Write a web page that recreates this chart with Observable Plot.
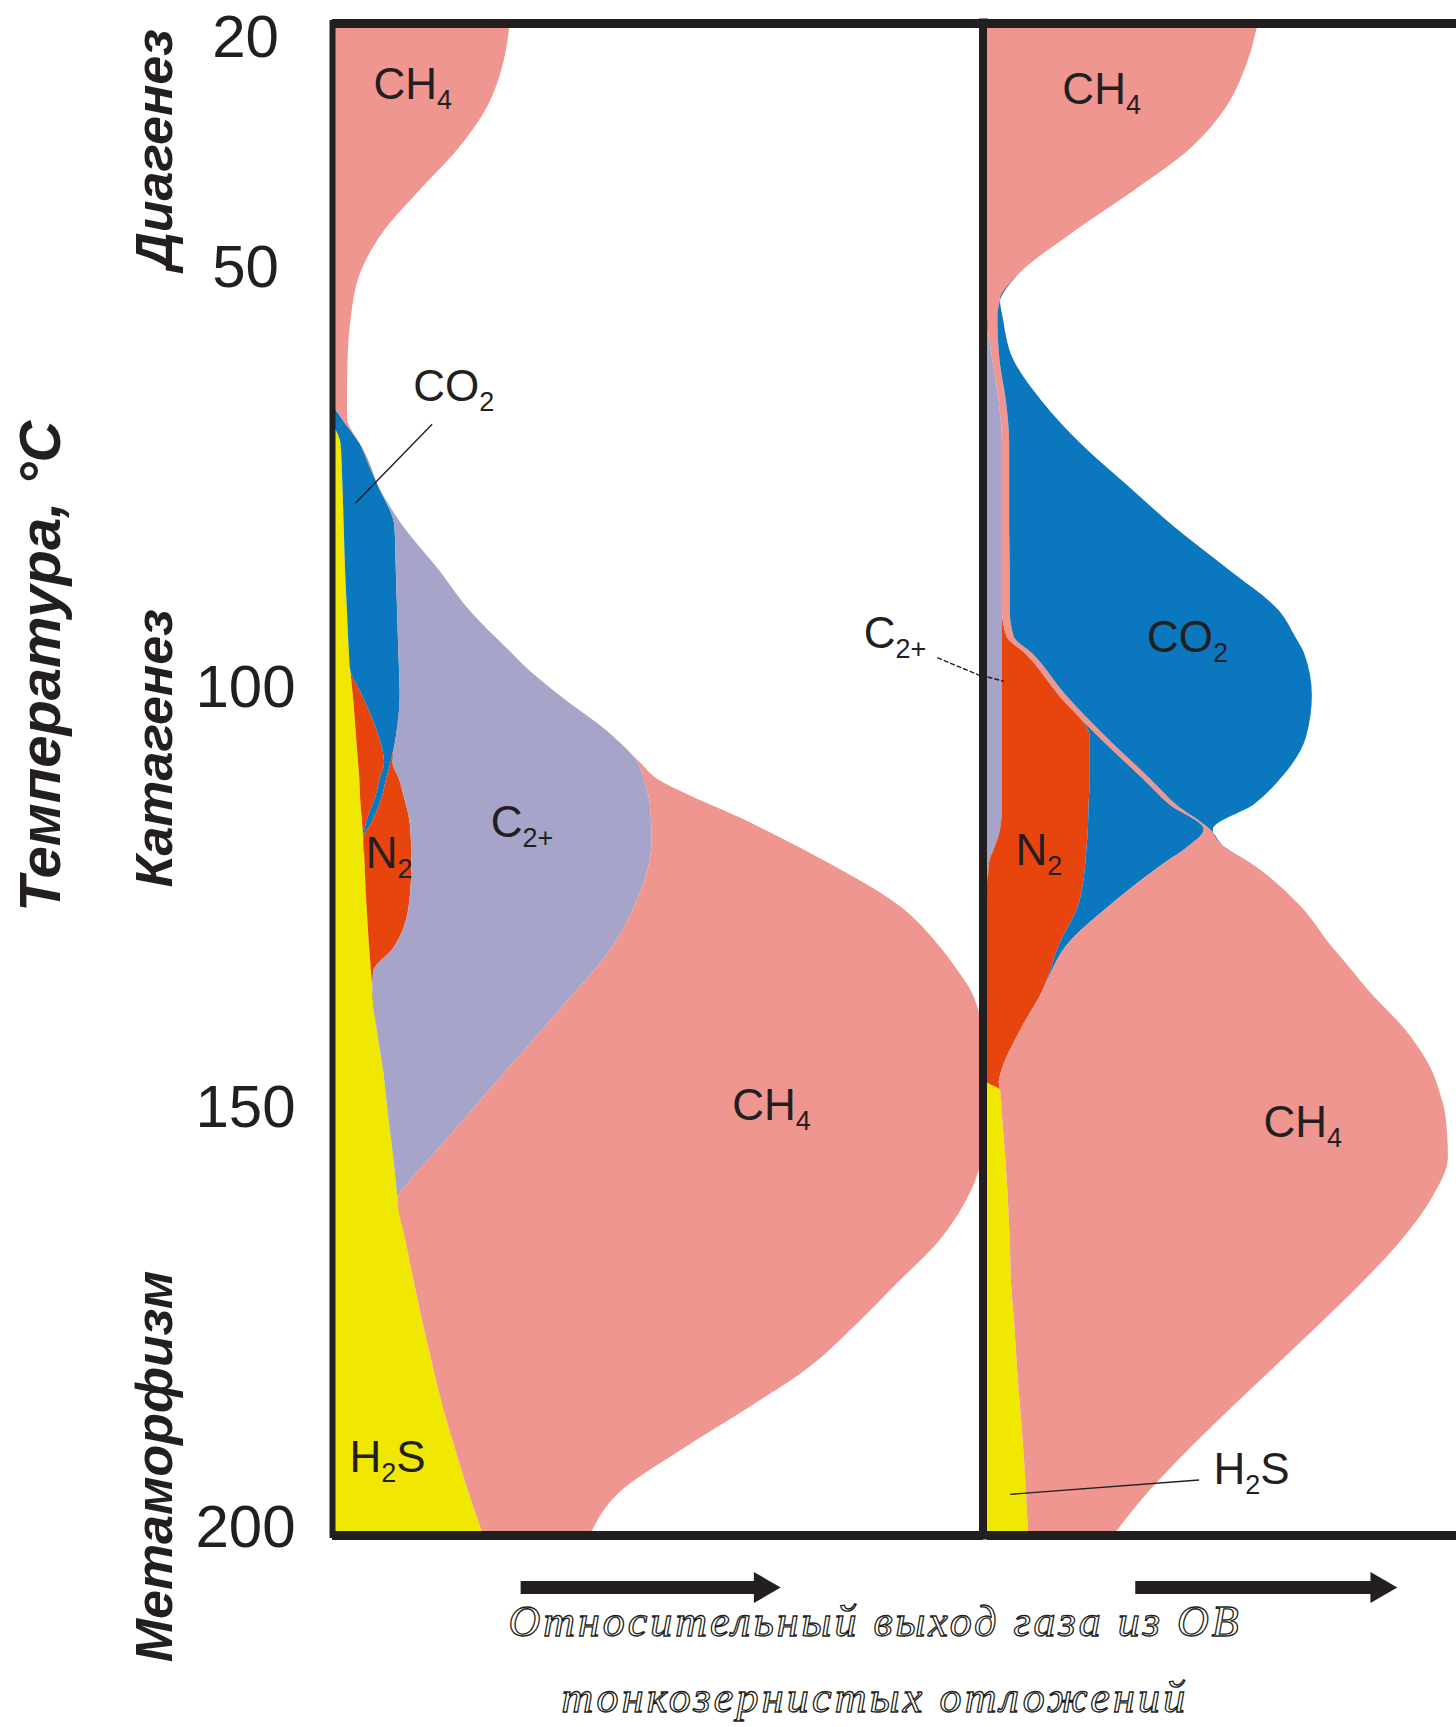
<!DOCTYPE html>
<html><head><meta charset="utf-8">
<script src="https://cdn.jsdelivr.net/npm/d3@7"></script>
<script src="https://cdn.jsdelivr.net/npm/@observablehq/plot@0.6"></script>
<style>
html,body{margin:0;padding:0;background:#fff;overflow:hidden;}
#wrap{position:relative;width:1456px;height:1727px;overflow:hidden;background:#fff;}
#left{position:absolute;left:0;top:0;width:987px;height:1727px;}
#right{position:absolute;left:987px;top:0;width:469px;height:1727px;}
#caption{position:absolute;left:875px;top:1597px;transform:translateX(-50%);white-space:nowrap;text-align:center;
 font-family:"Liberation Serif","DejaVu Serif",serif;font-style:italic;font-size:44px;
 color:#fff;-webkit-text-stroke:1.3px #231f20;}
#caption .l1{letter-spacing:3px;line-height:50px;height:50px;}
#caption .l2{letter-spacing:3.2px;line-height:50px;height:50px;margin-top:26px;}
svg{max-width:none !important;}
</style></head><body>
<div id="wrap">
  <div id="left"></div>
  <div id="right"></div>
  <div id="caption"><div class="l1">Относительный выход газа из ОВ</div><div class="l2">тонкозернистых отложений</div></div>
</div>
<script>
// ---------- data (relative gas yield, arbitrary units; 100 = width of a panel) ----------
const gasNames  = ["H2S", "N2", "CO2", "C2+", "CH4"];
const gasColors = ["#f0e800", "#e8440e", "#0a77bf", "#a6a4c8", "#ef9691"];

// Left panel
const leftT    = [20,25,30,35,40,45,50,55,60,65,67,70,75,80,85,90,95,97,100,105,108,110,112,115,117,120,125,130,133,135,140,145,150,155,158,160,165,170,175,180,185,190,195,200];
const leftH2S  = [0,0,0,0,0,0,0,0,0,0,0,1.3,1.6,1.8,2.0,2.3,2.6,2.8,3.2,3.7,4.0,4.2,4.3,4.6,4.8,5.0,5.3,5.7,6.0,6.2,6.9,7.9,8.6,9.4,9.8,10.1,11.3,12.6,14.0,15.5,17.1,19.0,21.0,23.2];
const leftN2a  = [0,0,0,0,0,0,0,0,0,0,0,0,0,0,0,0,0,0,1.4,3.5,4.0,3.1,2.4,0.7,0,0,0,0,0,0,0,0,0,0,0,0,0,0,0,0,0,0,0,0];
const leftCO2  = [0,0,0,0,0,0,0,0,0,0,1.4,2.9,5.4,7.8,7.8,7.7,7.6,7.5,5.8,2.6,1.0,1.0,1.0,0.9,0.1,0,0,0,0,0,0,0,0,0,0,0,0,0,0,0,0,0,0,0];
const leftN2b  = [0,0,0,0,0,0,0,0,0,0,0,0,0,0,0,0,0,0,0,0,0.3,2.0,3.3,5.7,7.2,7.2,6.5,3.8,0.3,0,0,0,0,0,0,0,0,0,0,0,0,0,0,0];
const leftC2   = [0,0,0,0,0,0,0,0,0,0,0,0,0,1.4,6.5,11.2,17.4,19.9,24.5,33.5,37.6,37.6,37.6,37.1,37.0,36.5,34.7,33.5,33.7,31.5,25.2,18.5,12.2,5.8,1.9,0,0,0,0,0,0,0,0,0];
const leftCH4  = [27.3,26.2,23.8,19.3,13.3,7.7,4.2,2.9,2.4,2.3,0.9,0,0,0,0,0,0,0,0,0,0.4,2.1,6.5,14.8,19.8,27.6,40.5,50.4,56.3,60.3,67.6,73.3,78.9,84.5,87.0,87.4,81.9,74.2,66.4,57.8,46.5,34.3,23.0,16.4];

// Right panel
const rightT    = [20,25,30,35,40,45,50,53,55,60,65,70,75,80,85,90,93,95,100,105,110,113,116,118,120,125,130,133,135,140,145,146,147,150,155,160,165,170,175,180,185,190,195,200];
const rightH2S  = [0,0,0,0,0,0,0,0,0,0,0,0,0,0,0,0,0,0,0,0,0,0,0,0,0,0,0,0,0,0,0,0,2.0,2.3,2.8,3.2,3.5,3.7,4.2,4.6,5.1,5.6,6.0,6.3];
const rightC2   = [0,0,0,0,0,0,0,0,0,0.8,1.8,2.3,2.3,2.3,2.3,2.3,2.3,2.3,2.3,2.3,2.3,2.3,2.0,1.2,0.3,0,0,0,0,0,0,0,0,0,0,0,0,0,0,0,0,0,0,0];
const rightN2   = [0,0,0,0,0,0,0,0,0,0,0,0,0,0,0,0,0.7,3.5,8.7,13.5,13.5,13.3,13.5,14.1,14.8,14.0,10.9,9.6,8.6,5.0,2.1,1.8,0,0,0,0,0,0,0,0,0,0,0,0];
const rightCO2a = [0,0,0,0,0,0,0,0,0,0,0,0,0,0,0,0,0,0,0,1.4,8.2,12.4,17.8,15.6,12.1,4.9,1.1,0.2,0,0,0,0,0,0,0,0,0,0,0,0,0,0,0,0];
const rightCH4  = [41.6,39.8,36.7,31.1,22.4,13.0,4.7,2.0,1.6,1.1,1.1,1.1,1.1,1.1,1.2,1.2,1.1,1.1,1.1,1.1,1.1,1.0,1.0,5.5,13.3,29.1,41.0,46.5,49.8,59.4,66.4,67.2,67.4,68.1,68.0,65.0,60.0,53.8,46.7,39.5,32.2,25.1,18.6,13.1];
const rightCO2b = [0,0,0,0,0,0,0,0,0.8,2.1,5.5,10.9,18.1,25.4,33.5,41.4,43.2,41.8,37.8,30.7,19.9,12.0,0.4,0,0,0,0,0,0,0,0,0,0,0,0,0,0,0,0,0,0,0,0,0];

// Axis
const yTicks = [20, 50, 100, 150, 200];
const axisTitle = [{label: "Температура, °C", T: 96.5}];
const stages = [
  {label: "Диагенез", T: 35.0},
  {label: "Катагенез", T: 106.3},
  {label: "Метаморфизм", T: 191.8}
];

// Labels inside panels (x = start of text, T = middle of capitals)
const leftLabels = [
  {text: "CH4", x: 6.3,  T: 27.3},
  {text: "CO2", x: 12.4, T: 63.3},
  {text: "C2+", x: 24.3, T: 115.2},
  {text: "N2",  x: 5.1,  T: 118.9},
  {text: "CH4", x: 61.4, T: 148.9},
  {text: "H2S", x: 2.6,  T: 190.8},
  {text: "C2+", x: 81.6, T: 92.7}
];
const rightLabels = [
  {text: "CH4", x: 11.5, T: 27.9},
  {text: "CO2", x: 24.5, T: 93.1},
  {text: "N2",  x: 4.3,  T: 118.5},
  {text: "CH4", x: 42.4, T: 150.9},
  {text: "H2S", x: 34.7, T: 192.2}
];
const leftLeaders = [
  {x1: 15.3, T1: 67.7, x2: 3.5, T2: 77.1, dashed: false},
  {x1: 92.9, T1: 95.5, x2: 100, T2: 97.8, dashed: true}
];
const rightLeaders = [
  {x1: 0, T1: 97.8, x2: 2.5, T2: 98.3, dashed: true},
  {x1: 32.5, T1: 193.4, x2: 3.5, T2: 195.1, dashed: false}
];
const leftArrow  = [{from: 28.9, to: 66.1}];
const rightArrow = [{from: 22.7, to: 60.2}];

// ---------- build tidy tables ----------
function tidy(T, series) {
  const rows = [];
  for (const s of series) T.forEach((t, i) => rows.push({T: t, value: s.values[i], series: s.key, gas: s.gas}));
  return rows;
}
const leftSeries = [
  {key: "H2S", gas: "H2S", values: leftH2S},
  {key: "N2 a", gas: "N2", values: leftN2a},
  {key: "CO2", gas: "CO2", values: leftCO2},
  {key: "N2 b", gas: "N2", values: leftN2b},
  {key: "C2+", gas: "C2+", values: leftC2},
  {key: "CH4", gas: "CH4", values: leftCH4}
];
const rightSeries = [
  {key: "H2S", gas: "H2S", values: rightH2S},
  {key: "C2+", gas: "C2+", values: rightC2},
  {key: "N2", gas: "N2", values: rightN2},
  {key: "CO2 a", gas: "CO2", values: rightCO2a},
  {key: "CH4", gas: "CH4", values: rightCH4},
  {key: "CO2 b", gas: "CO2", values: rightCO2b}
];
const leftRows = tidy(leftT, leftSeries);
const rightRows = tidy(rightT, rightSeries);

const ink = "#231f20";
const UNIT = 6.51; // px per unit of relative yield
const font = "'Liberation Sans', Arial, Helvetica, sans-serif";

function labelMarks(labels, leaders) {
  return [
    Plot.link(leaders.filter(d => !d.dashed), {x1: "x1", y1: "T1", x2: "x2", y2: "T2", stroke: ink, strokeWidth: 1.4}),
    Plot.link(leaders.filter(d => d.dashed), {x1: "x1", y1: "T1", x2: "x2", y2: "T2", stroke: ink, strokeWidth: 1.4, strokeDasharray: "5,2"}),
    Plot.text(labels, {x: "x", y: "T", text: "text", textAnchor: "start", lineAnchor: "middle",
      fontSize: 44, fill: ink, ariaDescription: "gas-label"})
  ];
}
function arrowMarks(arrow) {
  return [
    Plot.link(arrow, {x1: "from", x2: "to", y1: 200, y2: 200, dy: 52, stroke: ink, strokeWidth: 13}),
    Plot.dot(arrow, {x: "to", y: 200, dy: 52, symbol: "triangle", r: 11.5, rotate: 90, fill: ink, stroke: "none"})
  ];
}

const left = Plot.plot({
  width: 987, height: 1727,
  marginLeft: 332, marginRight: 4, marginTop: 23, marginBottom: 192,
  x: {domain: [0, 100], axis: null},
  y: {domain: [20, 200], reverse: true, axis: null},
  color: {domain: gasNames, range: gasColors},
  style: {background: "transparent", overflow: "visible", fontFamily: font},
  marks: [
    Plot.areaX(leftRows, {y: "T", x: "value", z: "series", fill: "gas",
      order: leftSeries.map(d => d.key), curve: "monotone-y"}),
    ...labelMarks(leftLabels, leftLeaders),
    Plot.ruleY([20], {stroke: ink, strokeWidth: 9}),
    Plot.ruleY([200], {stroke: ink, strokeWidth: 9}),
    Plot.ruleX([0], {y1: 20, y2: 200, stroke: ink, strokeWidth: 6, strokeLinecap: "square"}),
    Plot.ruleX([100], {y1: 20, y2: 200, stroke: ink, strokeWidth: 9, strokeLinecap: "square"}),
    Plot.text(yTicks.slice(1), {y: d => d, text: d => String(d), frameAnchor: "left", dx: -87, dy: -8,
      textAnchor: "middle", lineAnchor: "middle", fontSize: 60, fill: ink}),
    Plot.text(yTicks.slice(0, 1), {y: d => d, text: d => String(d), frameAnchor: "left", dx: -87, dy: 14,
      textAnchor: "middle", lineAnchor: "middle", fontSize: 60, fill: ink}),
    Plot.text(stages, {y: "T", text: "label", frameAnchor: "left", dx: -177, rotate: -90,
      textAnchor: "middle", lineAnchor: "middle", fontSize: 52, fontWeight: "bold", fontStyle: "italic", fill: ink}),
    Plot.text(axisTitle, {y: "T", text: "label", frameAnchor: "left", dx: -291, rotate: -90,
      textAnchor: "middle", lineAnchor: "middle", fontSize: 58, fontWeight: "bold", fontStyle: "italic", fill: ink}),
    ...arrowMarks(leftArrow)
  ]
});

const right = Plot.plot({
  width: 469, height: 1727,
  marginLeft: 0, marginRight: 0, marginTop: 23, marginBottom: 192,
  x: {domain: [0, 469 / UNIT], axis: null},
  y: {domain: [20, 200], reverse: true, axis: null},
  color: {domain: gasNames, range: gasColors},
  style: {background: "transparent", overflow: "visible", fontFamily: font},
  marks: [
    Plot.areaX(rightRows, {y: "T", x: "value", z: "series", fill: "gas",
      order: rightSeries.map(d => d.key), curve: "monotone-y"}),
    ...labelMarks(rightLabels, rightLeaders),
    Plot.ruleY([20], {stroke: ink, strokeWidth: 9}),
    Plot.ruleY([200], {stroke: ink, strokeWidth: 9}),
    ...arrowMarks(rightArrow)
  ]
});

// chemical formulas: digits and "+" as subscripts
function subscripts(svg) {
  svg.querySelectorAll('g[aria-description="gas-label"] text').forEach(t => {
    const runs = t.textContent.match(/[0-9+]+|[^0-9+]+/g) || [];
    t.textContent = "";
    let shifted = false;
    for (const r of runs) {
      const ts = document.createElementNS("http://www.w3.org/2000/svg", "tspan");
      ts.textContent = r;
      if (/^[0-9+]+$/.test(r)) { ts.setAttribute("font-size", "27"); ts.setAttribute("dy", "10"); shifted = true; }
      else if (shifted) { ts.setAttribute("dy", "-10"); shifted = false; }
      t.appendChild(ts);
    }
  });
}
subscripts(left);
subscripts(right);

document.getElementById("left").appendChild(left);
document.getElementById("right").appendChild(right);
</script>
</body></html>
